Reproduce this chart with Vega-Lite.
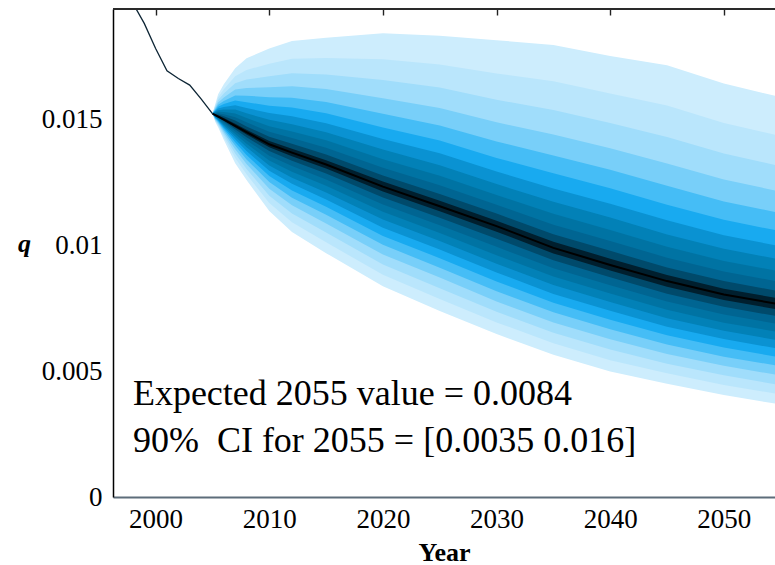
{
"$schema": "https://vega.github.io/schema/vega-lite/v6.json",
"width": 662, "height": 488,
"autosize": {"type": "none"},
"padding": {"left": 113, "top": 9, "right": 0, "bottom": 68},
"background": "white",
"config": {"view": {"stroke": null}, "font": "Liberation Serif"},
"datasets": {
"fan": [
{"t":2005,"m":0.01522,"h1":0.01522,"h2":0.01522,"h3":0.01522,"h4":0.01522,"h5":0.01522,"h6":0.01522,"h7":0.01522,"h8":0.01522,"h9":0.01522,"h10":0.01522,"h11":0.01522,"h12":0.01522,"l1":0.01522,"l2":0.01522,"l3":0.01522,"l4":0.01522,"l5":0.01522,"l6":0.01522,"l7":0.01522,"l8":0.01522,"l9":0.01522,"l10":0.01522,"l11":0.01522,"l12":0.01522},
{"t":2005.25,"m":0.01516,"h1":0.0156,"h2":0.01554,"h3":0.01549,"h4":0.01544,"h5":0.01539,"h6":0.01535,"h7":0.01532,"h8":0.01529,"h9":0.01525,"h10":0.01523,"h11":0.0152,"h12":0.01518,"l1":0.01488,"l2":0.01492,"l3":0.01495,"l4":0.01498,"l5":0.01501,"l6":0.01504,"l7":0.01506,"l8":0.01508,"l9":0.0151,"l10":0.01512,"l11":0.01513,"l12":0.01515},
{"t":2005.5,"m":0.0151,"h1":0.01599,"h2":0.01587,"h3":0.01576,"h4":0.01566,"h5":0.01557,"h6":0.01549,"h7":0.01542,"h8":0.01535,"h9":0.01529,"h10":0.01523,"h11":0.01518,"h12":0.01514,"l1":0.01468,"l2":0.01474,"l3":0.01479,"l4":0.01484,"l5":0.01488,"l6":0.01492,"l7":0.01495,"l8":0.01498,"l9":0.01501,"l10":0.01504,"l11":0.01506,"l12":0.01508},
{"t":2006,"m":0.01498,"h1":0.01638,"h2":0.01618,"h3":0.01602,"h4":0.01586,"h5":0.01572,"h6":0.0156,"h7":0.01548,"h8":0.01538,"h9":0.01528,"h10":0.01519,"h11":0.01511,"h12":0.01504,"l1":0.01418,"l2":0.01429,"l3":0.01439,"l4":0.01448,"l5":0.01456,"l6":0.01463,"l7":0.01469,"l8":0.01475,"l9":0.01481,"l10":0.01486,"l11":0.01491,"l12":0.01495},
{"t":2007,"m":0.01473,"h1":0.01702,"h2":0.0167,"h3":0.01642,"h4":0.01617,"h5":0.01594,"h6":0.01574,"h7":0.01555,"h8":0.01538,"h9":0.01522,"h10":0.01507,"h11":0.01494,"h12":0.01482,"l1":0.01325,"l2":0.01346,"l3":0.01363,"l4":0.0138,"l5":0.01395,"l6":0.01408,"l7":0.0142,"l8":0.01431,"l9":0.01441,"l10":0.01451,"l11":0.0146,"l12":0.01467},
{"t":2008,"m":0.01448,"h1":0.01742,"h2":0.01695,"h3":0.01657,"h4":0.01623,"h5":0.01593,"h6":0.01567,"h7":0.01544,"h8":0.01523,"h9":0.01504,"h10":0.01487,"h11":0.01471,"h12":0.01458,"l1":0.01258,"l2":0.01281,"l3":0.01302,"l4":0.01322,"l5":0.0134,"l6":0.01357,"l7":0.01373,"l8":0.01388,"l9":0.01402,"l10":0.01416,"l11":0.01428,"l12":0.01439},
{"t":2010,"m":0.014,"h1":0.0178,"h2":0.0172,"h3":0.0167,"h4":0.01626,"h5":0.01587,"h6":0.01553,"h7":0.01524,"h8":0.01497,"h9":0.01472,"h10":0.0145,"h11":0.0143,"h12":0.01413,"l1":0.01135,"l2":0.01167,"l3":0.01196,"l4":0.01224,"l5":0.0125,"l6":0.01274,"l7":0.01295,"l8":0.01316,"l9":0.01336,"l10":0.01355,"l11":0.01373,"l12":0.01388},
{"t":2012,"m":0.01367,"h1":0.0181,"h2":0.0174,"h3":0.01682,"h4":0.0163,"h5":0.01585,"h6":0.01546,"h7":0.01511,"h8":0.0148,"h9":0.01451,"h10":0.01425,"h11":0.01402,"h12":0.01382,"l1":0.01052,"l2":0.01091,"l3":0.01125,"l4":0.01158,"l5":0.01188,"l6":0.01217,"l7":0.01243,"l8":0.01267,"l9":0.01291,"l10":0.01314,"l11":0.01335,"l12":0.01353},
{"t":2015,"m":0.0132,"h1":0.01823,"h2":0.01743,"h3":0.01677,"h4":0.01619,"h5":0.01568,"h6":0.01523,"h7":0.01484,"h8":0.01448,"h9":0.01416,"h10":0.01386,"h11":0.01359,"h12":0.01337,"l1":0.00968,"l2":0.01011,"l3":0.0105,"l4":0.01086,"l5":0.0112,"l6":0.01152,"l7":0.01181,"l8":0.01209,"l9":0.01235,"l10":0.0126,"l11":0.01284,"l12":0.01304},
{"t":2020,"m":0.01232,"h1":0.01841,"h2":0.01738,"h3":0.01655,"h4":0.01583,"h5":0.01521,"h6":0.01467,"h7":0.01421,"h8":0.01379,"h9":0.01341,"h10":0.01307,"h11":0.01276,"h12":0.01252,"l1":0.00837,"l2":0.00882,"l3":0.00923,"l4":0.00963,"l5":0.01001,"l6":0.01036,"l7":0.01069,"l8":0.01101,"l9":0.01132,"l10":0.01161,"l11":0.01189,"l12":0.01213},
{"t":2025,"m":0.01154,"h1":0.01831,"h2":0.01717,"h3":0.01625,"h4":0.01544,"h5":0.01475,"h6":0.01415,"h7":0.01364,"h8":0.01317,"h9":0.01275,"h10":0.01237,"h11":0.01203,"h12":0.01176,"l1":0.00738,"l2":0.00786,"l3":0.00829,"l4":0.00871,"l5":0.0091,"l6":0.00948,"l7":0.00982,"l8":0.01016,"l9":0.01048,"l10":0.01079,"l11":0.01108,"l12":0.01134},
{"t":2030,"m":0.01075,"h1":0.01813,"h2":0.01681,"h3":0.01577,"h4":0.01487,"h5":0.01411,"h6":0.01346,"h7":0.01292,"h8":0.01242,"h9":0.01199,"h10":0.0116,"h11":0.01125,"h12":0.01097,"l1":0.00647,"l2":0.00693,"l3":0.00735,"l4":0.00776,"l5":0.00817,"l6":0.00855,"l7":0.00891,"l8":0.00926,"l9":0.0096,"l10":0.00993,"l11":0.01025,"l12":0.01053},
{"t":2035,"m":0.00989,"h1":0.01794,"h2":0.0165,"h3":0.01536,"h4":0.01439,"h5":0.01356,"h6":0.01285,"h7":0.01225,"h8":0.01172,"h9":0.01124,"h10":0.01081,"h11":0.01043,"h12":0.01013,"l1":0.00565,"l2":0.0061,"l3":0.00652,"l4":0.00693,"l5":0.00733,"l6":0.00771,"l7":0.00806,"l8":0.00841,"l9":0.00875,"l10":0.00908,"l11":0.0094,"l12":0.00967},
{"t":2040,"m":0.00921,"h1":0.0175,"h2":0.01602,"h3":0.01485,"h4":0.01384,"h5":0.01299,"h6":0.01226,"h7":0.01164,"h8":0.01109,"h9":0.0106,"h10":0.01016,"h11":0.00977,"h12":0.00946,"l1":0.00498,"l2":0.00543,"l3":0.00585,"l4":0.00626,"l5":0.00666,"l6":0.00704,"l7":0.00739,"l8":0.00774,"l9":0.00808,"l10":0.0084,"l11":0.00872,"l12":0.00899},
{"t":2045,"m":0.00857,"h1":0.01714,"h2":0.01554,"h3":0.01429,"h4":0.01324,"h5":0.01235,"h6":0.0116,"h7":0.01098,"h8":0.01042,"h9":0.00993,"h10":0.0095,"h11":0.00911,"h12":0.00881,"l1":0.0045,"l2":0.00491,"l3":0.00529,"l4":0.00568,"l5":0.00605,"l6":0.00642,"l7":0.00676,"l8":0.0071,"l9":0.00743,"l10":0.00776,"l11":0.00807,"l12":0.00835},
{"t":2050,"m":0.00804,"h1":0.01641,"h2":0.01485,"h3":0.01363,"h4":0.0126,"h5":0.01173,"h6":0.011,"h7":0.01039,"h8":0.00985,"h9":0.00937,"h10":0.00895,"h11":0.00857,"h12":0.00827,"l1":0.00405,"l2":0.00445,"l3":0.00483,"l4":0.00521,"l5":0.00557,"l6":0.00593,"l7":0.00627,"l8":0.0066,"l9":0.00692,"l10":0.00724,"l11":0.00755,"l12":0.00782},
{"t":2055,"m":0.00764,"h1":0.01587,"h2":0.01433,"h3":0.01313,"h4":0.01212,"h5":0.01127,"h6":0.01055,"h7":0.00995,"h8":0.00942,"h9":0.00895,"h10":0.00853,"h11":0.00816,"h12":0.00787,"l1":0.00367,"l2":0.00407,"l3":0.00444,"l4":0.00482,"l5":0.00519,"l6":0.00554,"l7":0.00587,"l8":0.0062,"l9":0.00653,"l10":0.00685,"l11":0.00715,"l12":0.00742}
],
"hist": [
{"t":1998,"q":0.0196},{"t":1999,"q":0.0188},{"t":2000,"q":0.0178},{"t":2001,"q":0.01692},
{"t":2002,"q":0.01661},{"t":2003,"q":0.01635},{"t":2004,"q":0.0158},{"t":2005,"q":0.01522}
],
"frame": [{"top":0.01937}],
"notes": [
{"t":1998.0,"v":0.00365,"label":"Expected 2055 value = 0.0084"},
{"t":1998.0,"v":0.00179,"label":"90%\u00a0 CI for 2055 = [0.0035 0.016]"}
]
},
"resolve": {"axis": {"x": "independent", "y": "independent"}},
"layer": [
{"data":{"name":"fan"},"mark":{"type":"area","color":"#cdedfd","clip":true},
 "encoding":{
  "x":{"field":"t","type":"quantitative","scale":{"domain":[1996.25,2054.5],"nice":false,"zero":false},
   "axis":{"orient":"bottom","values":[2000,2010,2020,2030,2040,2050],"format":"d","ticks":false,
    "grid":true,"gridColor":"#222222","gridOpacity":1,"gridWidth":1.4,"gridDash":[6,1000],
    "labelFont":"Liberation Serif","labelFontSize":27,"labelColor":"black","labelBaseline":"alphabetic","labelPadding":30,
    "labelFlush":false,"labelOverlap":false,"domainColor":"#5d6d7a","domainWidth":2,
    "title":"Year","titleFont":"Liberation Serif","titleFontSize":26,"titleFontWeight":"bold","titleColor":"black",
    "titleY":63,"titleBaseline":"alphabetic"}},
  "y":{"field":"l1","type":"quantitative","scale":{"domain":[0,0.01937],"nice":false,"zero":true},
   "axis":{"values":[0,0.005,0.01,0.015],"format":"~g","ticks":false,"grid":false,
    "labelFont":"Liberation Serif","labelFontSize":27,"labelColor":"black","labelPadding":11,"labelFlush":false,
    "domainColor":"black","domainWidth":1.5,
    "title":"q","titleFont":"Liberation Serif","titleFontSize":26,"titleFontWeight":"bold","titleFontStyle":"italic",
    "titleColor":"black","titleAngle":0,"titleX":-89,"titleY":234,"titleAlign":"center","titleBaseline":"middle"}},
  "y2":{"field":"h1"}}},
{"data":{"name":"fan"},"mark":{"type":"area","color":"#bae6fc","clip":true},
 "encoding":{"x":{"field":"t","type":"quantitative","axis":null},"y":{"field":"l2","type":"quantitative","axis":null},"y2":{"field":"h2"}}},
{"data":{"name":"fan"},"mark":{"type":"area","color":"#a0ddfb","clip":true},
 "encoding":{"x":{"field":"t","type":"quantitative","axis":null},"y":{"field":"l3","type":"quantitative","axis":null},"y2":{"field":"h3"}}},
{"data":{"name":"fan"},"mark":{"type":"area","color":"#78cff9","clip":true},
 "encoding":{"x":{"field":"t","type":"quantitative","axis":null},"y":{"field":"l4","type":"quantitative","axis":null},"y2":{"field":"h4"}}},
{"data":{"name":"fan"},"mark":{"type":"area","color":"#45bdf6","clip":true},
 "encoding":{"x":{"field":"t","type":"quantitative","axis":null},"y":{"field":"l5","type":"quantitative","axis":null},"y2":{"field":"h5"}}},
{"data":{"name":"fan"},"mark":{"type":"area","color":"#18aaf0","clip":true},
 "encoding":{"x":{"field":"t","type":"quantitative","axis":null},"y":{"field":"l6","type":"quantitative","axis":null},"y2":{"field":"h6"}}},
{"data":{"name":"fan"},"mark":{"type":"area","color":"#0a92d2","clip":true},
 "encoding":{"x":{"field":"t","type":"quantitative","axis":null},"y":{"field":"l7","type":"quantitative","axis":null},"y2":{"field":"h7"}}},
{"data":{"name":"fan"},"mark":{"type":"area","color":"#0281b7","clip":true},
 "encoding":{"x":{"field":"t","type":"quantitative","axis":null},"y":{"field":"l8","type":"quantitative","axis":null},"y2":{"field":"h8"}}},
{"data":{"name":"fan"},"mark":{"type":"area","color":"#0073a3","clip":true},
 "encoding":{"x":{"field":"t","type":"quantitative","axis":null},"y":{"field":"l9","type":"quantitative","axis":null},"y2":{"field":"h9"}}},
{"data":{"name":"fan"},"mark":{"type":"area","color":"#006592","clip":true},
 "encoding":{"x":{"field":"t","type":"quantitative","axis":null},"y":{"field":"l10","type":"quantitative","axis":null},"y2":{"field":"h10"}}},
{"data":{"name":"fan"},"mark":{"type":"area","color":"#004a6b","clip":true},
 "encoding":{"x":{"field":"t","type":"quantitative","axis":null},"y":{"field":"l11","type":"quantitative","axis":null},"y2":{"field":"h11"}}},
{"data":{"name":"fan"},"mark":{"type":"area","color":"#001f2e","clip":true},
 "encoding":{"x":{"field":"t","type":"quantitative","axis":null},"y":{"field":"l12","type":"quantitative","axis":null},"y2":{"field":"h12"}}},
{"data":{"name":"fan"},"mark":{"type":"line","color":"black","strokeWidth":2,"clip":true},
 "encoding":{"x":{"field":"t","type":"quantitative","axis":null},"y":{"field":"m","type":"quantitative","axis":null}}},
{"data":{"name":"hist"},"mark":{"type":"line","color":"#0d2535","strokeWidth":1.3,"clip":true},
 "encoding":{"x":{"field":"t","type":"quantitative","axis":null},"y":{"field":"q","type":"quantitative","axis":null}}},
{"data":{"name":"frame"},"mark":{"type":"rule","color":"#2a2a2a","strokeWidth":2},
 "encoding":{"y":{"field":"top","type":"quantitative","axis":null}}},
{"data":{"name":"notes"},"mark":{"type":"text","align":"left","baseline":"alphabetic","font":"Liberation Serif","fontSize":36,"color":"black"},
 "encoding":{"x":{"field":"t","type":"quantitative","axis":null},"y":{"field":"v","type":"quantitative","axis":null},"text":{"field":"label"}}}
]
}
